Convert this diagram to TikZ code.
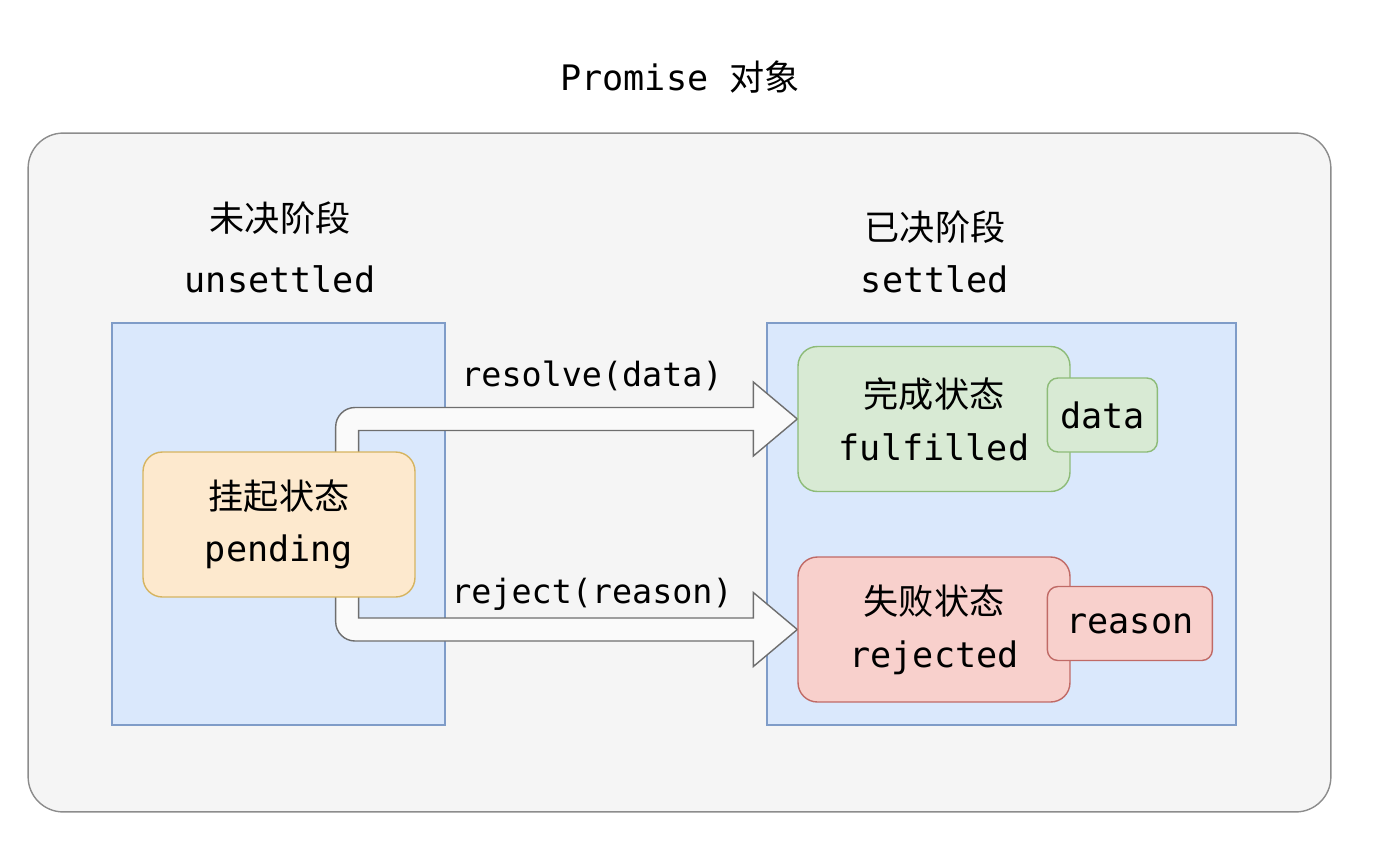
\documentclass[tikz,border=0pt]{standalone}
\usepackage{fontspec}
\setmainfont{DejaVu Sans Mono}
\newfontfamily\cjk{Noto Sans CJK SC}
\usetikzlibrary{positioning, calc}
\definecolor{framefill}{HTML}{F5F5F5}
\definecolor{frameborder}{HTML}{8C8C8C}
\definecolor{phasefill}{HTML}{DAE8FC}
\definecolor{phaseborder}{HTML}{7F9CC8}
\definecolor{pendfill}{HTML}{FDE9CE}
\definecolor{pendborder}{HTML}{D6B460}
\definecolor{okfill}{HTML}{D8EAD4}
\definecolor{okborder}{HTML}{8DBB78}
\definecolor{failfill}{HTML}{F8D0CC}
\definecolor{failborder}{HTML}{C06A66}
\definecolor{flowborder}{HTML}{6E6E6E}
\newcommand\zh[1]{{\cjk #1}}
\newcommand\statefont{\fontsize{20}{30}\selectfont}
\pgfdeclarelayer{frame}
\pgfdeclarelayer{flow}
\pgfsetlayers{frame,flow,main}
\tikzset{
    phasebox/.style={rectangle, fill=phasefill, draw=phaseborder, line width=0.8pt, minimum height=8.04cm},
    statebox/.style={rectangle, rounded corners=11pt, line width=0.8pt, minimum width=5.44cm, minimum height=2.9cm, align=center, font=\statefont},
    valuebox/.style={rectangle, rounded corners=6pt, line width=0.8pt, minimum height=1.48cm, font=\statefont},
    blockarrow/.style={fill=framefill!50!white, draw=flowborder, line width=0.8pt},
}

\begin{document}
\begin{tikzpicture}[
    x=0.02cm, y=-0.02cm,
    phaselbl/.style={align=center, font=\fontsize{20}{#1}\selectfont},
    flowlbl/.style={font=\fontsize{19}{22}\selectfont}
]
\useasboundingbox (0,0) rectangle (1396,856);

% Outer frame and title
\begin{pgfonlayer}{frame}
\node[rectangle, rounded corners=20pt, fill=framefill, draw=frameborder, line width=0.8pt,
      minimum width=26.06cm, minimum height=13.58cm] (promise) at (679.5,472.5) {};
\end{pgfonlayer}
\node[font=\fontsize{20}{24}\selectfont] (promise-title) at (680,77) {Promise \zh{对象}};

% Unsettled phase
\begin{pgfonlayer}{frame}
\node[phasebox, minimum width=6.66cm] (unsettled) at (278.5,524) {};
\end{pgfonlayer}
\node[phaselbl=35] (unsettled-lbl) at (280,247.5) {\zh{未决阶段}\\unsettled};
\node[statebox, fill=pendfill, draw=pendborder] (pending) at (279,524.5) {\zh{挂起状态}\\pending};

% Settled phase
\begin{pgfonlayer}{frame}
\node[phasebox, minimum width=9.38cm] (settled) at (1001.5,524) {};
\end{pgfonlayer}
\node[phaselbl=30] (settled-lbl) at (935,252) {\zh{已决阶段}\\settled};
\node[statebox, fill=okfill, draw=okborder] (fulfilled) at (934,419) {\zh{完成状态}\\fulfilled};
\node[statebox, fill=failfill, draw=failborder] (rejected) at (934,629.5) {\zh{失败状态}\\rejected};
\node[valuebox, fill=okfill, draw=okborder, minimum width=2.2cm, anchor=west] (data) at ($(fulfilled.east)+(-24,-4)$) {data};
\node[valuebox, fill=failfill, draw=failborder, minimum width=3.3cm, anchor=west] (reason) at ($(rejected.east)+(-24,-6)$) {reason};

% Block arrows
\coordinate (up-start) at ($(pending.north east)+(-80,20)$);
\coordinate (up-end) at ($(pending.north east)+(-57,20)$);
\coordinate (up-shaft) at ($(fulfilled.west)+(-44,-11.5)$);
\coordinate (dn-start) at ($(pending.south east)+(-80,-20)$);
\coordinate (dn-end) at ($(pending.south east)+(-57,-20)$);
\coordinate (dn-shaft) at ($(rejected.west)+(-44,11.5)$);
\begin{pgfonlayer}{flow}
\draw[blockarrow] (up-start) [rounded corners=11pt] -- (up-start |- up-shaft) [sharp corners] -- (up-shaft)
    -- ($(fulfilled.west)+(-44,-37)$) -- (fulfilled.west) -- ($(fulfilled.west)+(-44,37)$)
    -- ($(fulfilled.west)+(-44,11.5)$) -| (up-end) -- cycle;
\draw[blockarrow] (dn-start) [rounded corners=11pt] -- (dn-start |- dn-shaft) [sharp corners] -- (dn-shaft)
    -- ($(rejected.west)+(-44,37)$) -- (rejected.west) -- ($(rejected.west)+(-44,-37)$)
    -- ($(rejected.west)+(-44,-11.5)$) -| (dn-end) -- cycle;
\end{pgfonlayer}
\node[flowlbl] (resolve-lbl) at (592,376) {resolve(data)};
\node[flowlbl] (reject-lbl) at (592,594) {reject(reason)};

\end{tikzpicture}
\end{document}
